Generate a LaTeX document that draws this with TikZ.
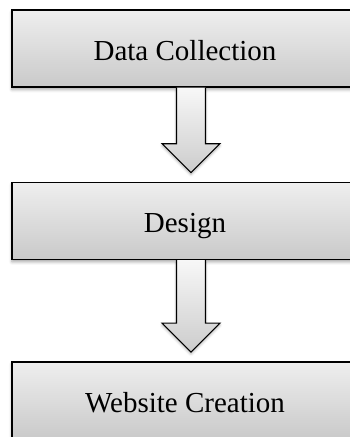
\documentclass[tikz,border=0pt]{standalone}
\usepackage{fontspec}
\setmainfont{Liberation Serif}
\usetikzlibrary{positioning,calc,shadows.blur}

\tikzset{
  stagebox/.style={draw=black,line width=1.4pt,top color=gray!13,bottom color=gray!42,
    minimum width=346pt,minimum height=77pt,inner sep=0pt,text height=24pt,text depth=0pt,
    font=\fontsize{29}{33}\selectfont,
    blur shadow={shadow xshift=0pt,shadow yshift=-2.5pt,shadow blur radius=3pt,shadow opacity=35}},
  flowarrow/.style={draw=black,line width=1.1pt,line join=miter,top color=gray!6,bottom color=gray!40,
    blur shadow={shadow xshift=0pt,shadow yshift=-2pt,shadow blur radius=2.5pt,shadow opacity=30}}
}

\begin{document}
\begin{tikzpicture}[x=1pt,y=-1pt]
  \useasboundingbox (0,0) rectangle (350,437);
  % the three stages
  \node (collect) [stagebox] at (185,48.5) {Data Collection};
  \node (design) [stagebox, below=94pt of collect] {Design};
  \node (website) [stagebox, below=101pt of design] {Website Creation};
  % block arrows between stages
  \foreach \from/\to in {collect/design,design/website}{
    \path[flowarrow] ($(\from.south)+(-8.5,0)$) -- ($(\to.north)+(-8.5,-38)$)
      -- ($(\to.north)+(-23,-38)$) -- ($(\to.north)+(6,-9)$)
      -- ($(\to.north)+(35,-38)$) -- ($(\to.north)+(20.5,-38)$)
      -- ($(\from.south)+(20.5,0)$);
  }
\end{tikzpicture}
\end{document}
